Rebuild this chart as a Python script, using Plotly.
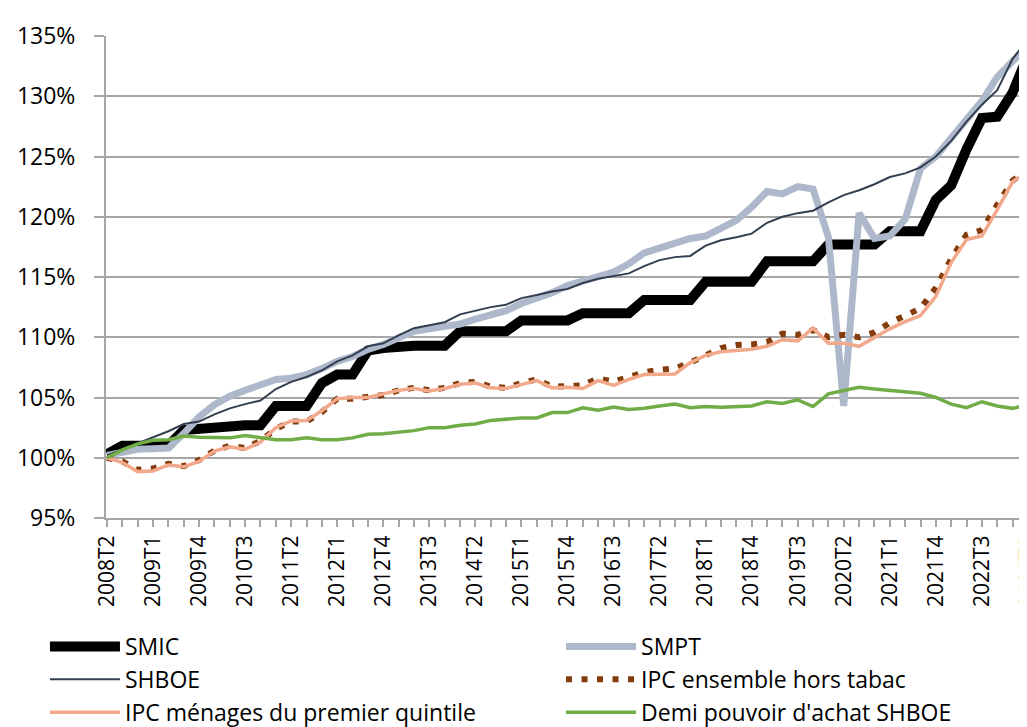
import plotly.graph_objects as go

quarters = [
    "2008T2", "2008T3", "2008T4",
    "2009T1", "2009T2", "2009T3", "2009T4",
    "2010T1", "2010T2", "2010T3", "2010T4",
    "2011T1", "2011T2", "2011T3", "2011T4",
    "2012T1", "2012T2", "2012T3", "2012T4",
    "2013T1", "2013T2", "2013T3", "2013T4",
    "2014T1", "2014T2", "2014T3", "2014T4",
    "2015T1", "2015T2", "2015T3", "2015T4",
    "2016T1", "2016T2", "2016T3", "2016T4",
    "2017T1", "2017T2", "2017T3", "2017T4",
    "2018T1", "2018T2", "2018T3", "2018T4",
    "2019T1", "2019T2", "2019T3", "2019T4",
    "2020T1", "2020T2", "2020T3", "2020T4",
    "2021T1", "2021T2", "2021T3", "2021T4",
    "2022T1", "2022T2", "2022T3", "2022T4",
    "2023T1", "2023T2",
]

smic = [100.3, 101.0, 101.0, 101.0, 101.0, 102.3, 102.4, 102.7, 102.7, 102.7,
        102.7, 104.3, 104.3, 104.3, 106.2, 106.9, 106.9, 108.9, 109.1, 109.3,
        109.3, 109.3, 109.3, 110.5, 110.5, 110.5, 110.5, 111.4, 111.4, 111.4,
        111.4, 112.0, 112.0, 112.0, 112.0, 113.1, 113.1, 113.1, 113.1, 114.6,
        114.6, 114.6, 114.6, 116.3, 116.3, 116.3, 116.3, 117.7, 117.7, 117.7,
        117.7, 118.8, 118.8, 118.8, 121.4, 122.6, 125.6, 128.2, 128.3, 130.3,
        133.4]

smpt = [100.2, 100.5, 100.7, 100.75, 100.8, 102.0, 103.4, 104.4, 105.1, 105.6,
        106.0, 106.5, 106.6, 106.9, 107.4, 108.0, 108.4, 109.0, 109.4, 110.0,
        110.5, 110.7, 110.9, 111.1, 111.5, 111.9, 112.2, 112.8, 113.2, 113.7,
        114.3, 114.7, 115.0, 115.4, 116.1, 117.0, 117.4, 117.8, 118.2, 118.4,
        119.0, 119.7, 120.8, 122.1, 121.9, 122.5, 122.3, 118.3, 104.3, 120.3,
        118.2, 118.4, 119.8, 124.0, 125.0, 126.5, 128.1, 129.6, 131.6, 133.0,
        134.2]

shboe = [100.2, 100.7, 101.2, 101.75, 102.2, 102.8, 103.0, 103.6, 104.1, 104.45,
         104.75, 105.7, 106.3, 106.7, 107.25, 108.0, 108.5, 109.25, 109.5, 110.15,
         110.75, 111.0, 111.25, 111.9, 112.2, 112.5, 112.7, 113.25, 113.5, 113.8,
         114.0, 114.5, 114.85, 115.1, 115.3, 115.9, 116.4, 116.65, 116.75, 117.6,
         118.05, 118.3, 118.6, 119.5, 120.0, 120.3, 120.5, 121.2, 121.8, 122.2,
         122.7, 123.3, 123.6, 124.1, 125.0, 126.3, 127.9, 129.3, 130.5, 133.1,
         134.7]

ipc_ensemble = [100.0, 99.7, 99.0, 99.1, 99.5, 99.3, 99.8, 100.6, 101.0, 100.8,
                101.4, 102.4, 103.0, 103.0, 103.8, 104.9, 104.9, 105.0, 105.2, 105.6,
                105.8, 105.6, 105.8, 106.2, 106.3, 105.9, 105.8, 106.2, 106.5, 105.9,
                106.0, 106.0, 106.6, 106.3, 106.7, 107.1, 107.3, 107.4, 107.9, 108.5,
                109.1, 109.35, 109.4, 109.6, 110.3, 110.2, 110.6, 110.0, 110.2, 110.0,
                110.4, 111.2, 111.8, 112.4, 114.1, 116.5, 118.5, 118.9, 121.0, 123.0,
                123.9]

ipc_quintile = [100.0, 99.6, 98.85, 98.9, 99.4, 99.25, 99.7, 100.55, 100.9, 100.7,
                101.3, 102.5, 103.05, 103.1, 103.9, 104.9, 105.0, 105.0, 105.3, 105.6,
                105.75, 105.55, 105.75, 106.1, 106.2, 105.8, 105.75, 106.1, 106.4, 105.8,
                105.85, 105.75, 106.4, 106.0, 106.5, 106.9, 106.95, 106.95, 107.9, 108.5,
                108.8, 108.9, 109.0, 109.25, 109.8, 109.7, 110.75, 109.5, 109.5, 109.25,
                110.0, 110.7, 111.3, 111.8, 113.4, 116.2, 118.1, 118.4, 120.6, 122.9,
                123.8]

demi_pa = [100.0, 100.65, 101.15, 101.45, 101.5, 101.8, 101.7, 101.65, 101.65, 101.85,
           101.65, 101.5, 101.5, 101.65, 101.5, 101.5, 101.65, 101.95, 102.0, 102.1,
           102.25, 102.5, 102.5, 102.7, 102.8, 103.1, 103.2, 103.3, 103.3, 103.75,
           103.75, 104.15, 103.95, 104.2, 104.0, 104.1, 104.3, 104.45, 104.15, 104.25,
           104.2, 104.25, 104.3, 104.65, 104.5, 104.8, 104.25, 105.3, 105.55, 105.85,
           105.7, 105.6, 105.5, 105.35, 105.0, 104.45, 104.15, 104.65, 104.3, 104.1,
           104.4]

# (name, values, line style, legend column)
series = [
    ("SMIC", smic, dict(color="#000000", width=10), "legend"),
    ("SMPT", smpt, dict(color="#ADB9CA", width=7), "legend2"),
    ("SHBOE", shboe, dict(color="#333F50", width=2), "legend"),
    ("IPC ensemble hors tabac", ipc_ensemble, dict(color="#843C0C", width=6, dash="6px,9.5px"), "legend2"),
    ("IPC ménages du premier quintile", ipc_quintile, dict(color="#F2A98B", width=3.5), "legend"),
    ("Demi pouvoir d'achat SHBOE", demi_pa, dict(color="#70AD47", width=3.5), "legend2"),
]

fig = go.Figure()
for name, vals, line, leg in series:
    fig.add_trace(go.Scatter(x=quarters, y=vals, name=name, mode="lines",
                             line=line, legend=leg))

tick_text = [q if i % 3 == 0 else "" for i, q in enumerate(quarters)]

FONT = "Open Sans"
legend_common = dict(
    orientation="v", yanchor="top", xanchor="left",
    font=dict(family=FONT, size=23, color="#000000"),
    itemwidth=70, tracegroupgap=0, traceorder="normal",
    bgcolor="rgba(0,0,0,0)",
)
fig.update_layout(
    width=1027, height=727,
    margin=dict(l=98, r=0, t=28, b=217, autoexpand=False),
    paper_bgcolor="white", plot_bgcolor="white",
    font=dict(family=FONT, color="#000000"),
    showlegend=True,
    legend=dict(x=-0.0657, y=-0.222, **legend_common),
    legend2=dict(x=0.4898, y=-0.222, **legend_common),
    xaxis=dict(
        type="category", range=[-0.065, 60.46],
        tickmode="array", tickvals=quarters, ticktext=tick_text,
        tickangle=-90, tickfont=dict(family=FONT, size=21),
        ticklabeloverflow="allow",
        ticks="outside", ticklen=7, tickcolor="#A6A6A6", tickwidth=1.5,
        showline=True, linecolor="#A6A6A6", linewidth=2,
        showgrid=False, zeroline=False,
    ),
    yaxis=dict(
        range=[95, 135], dtick=5, tick0=95, ticksuffix="%",
        tickfont=dict(family=FONT, size=23),
        ticks="outside", ticklen=10, tickcolor="#A6A6A6", tickwidth=1.5,
        ticklabelstandoff=14,
        showline=True, linecolor="#A6A6A6", linewidth=2,
        showgrid=True, gridcolor="#A6A6A6", gridwidth=1.6,
        zeroline=False,
    ),
)

fig.write_html("out.html")
